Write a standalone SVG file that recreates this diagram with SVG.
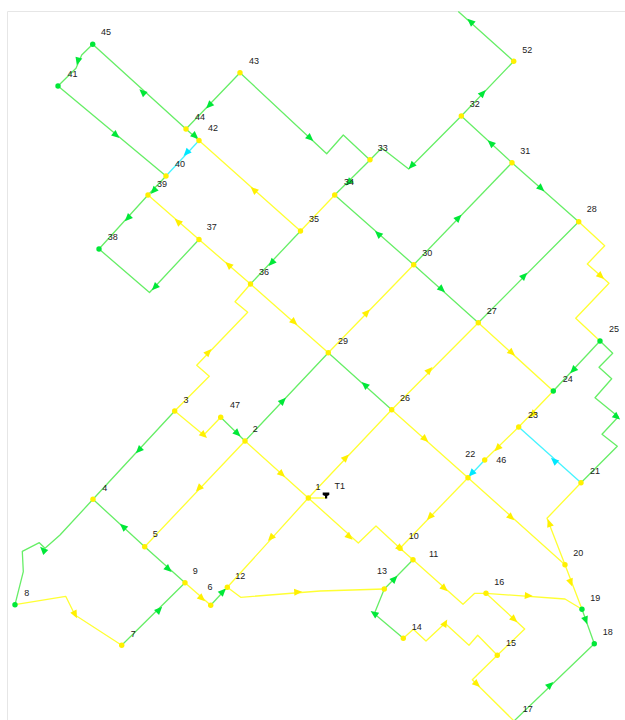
<svg xmlns="http://www.w3.org/2000/svg" width="625" height="720" viewBox="0 0 625 720">
<style>
text{font-family:"Liberation Sans",Arial,sans-serif;font-size:9px;fill:#222;text-anchor:middle}
.pg,.py,.pc{fill:none;stroke-width:1.300;stroke-linejoin:round}
.pg{stroke:#66ee66}.py{stroke:#ffff33}.pc{stroke:#44f4ff}
.ny{fill:#fff000}.ng{fill:#00e838}
.frame{fill:none;stroke:#e6e6e6;stroke-width:1}
</style>
<defs>
<polygon id="ag" points="4.500,0 -3.500,-3.500 -3.500,3.500" fill="#00e838"/>
<polygon id="ay" points="4.500,0 -3.500,-3.500 -3.500,3.500" fill="#fff000"/>
<polygon id="ac" points="4.500,0 -3.500,-3.500 -3.500,3.500" fill="#00e8ff"/>
</defs>
<rect width="625" height="720" fill="#fff"/>
<path class="frame" d="M625 11.500H7.500V720"/>
<g id="connectors">
<polyline class="pg" points="186,129 92.700,44.300 81.700,55 76,68.300 58,86 166,176"/>
<polyline class="pg" points="186,129 199,140.500"/>
<polyline class="pg" points="186,129 240,72.700 326.700,153.700 343.300,135 370,160 381.700,148 408.700,169 461.300,116 513.700,61.300 458.300,11.500"/>
<polyline class="pc" points="199,140.500 166,176"/>
<polyline class="pg" points="166,176 148,195 99,249 149.500,292.500 199,239.500"/>
<polyline class="py" points="199,140.500 300.500,231 334.700,195"/>
<polyline class="py" points="148,195 199,239.500 250.500,284 328.300,352.700 413.700,264.700"/>
<polyline class="pg" points="300.500,231 250.500,284"/>
<polyline class="py" points="250.500,284 235,301.700 247.700,312.300 196.700,365.300 209.300,376.300 174.700,411 203.700,435 220.700,417.300"/>
<polyline class="pg" points="220.700,417.300 245,441 328.300,352.700 391.700,409.700"/>
<polyline class="pg" points="334.700,195 370,160"/>
<polyline class="pg" points="334.700,195 413.700,264.700 478.300,322.700 578.700,221.700 512,162.700 461.300,116"/>
<polyline class="pg" points="413.700,264.700 512,162.700"/>
<polyline class="py" points="578.700,221.700 604.700,245.700 587.300,264 609,283.300 575.700,318.300 600,341"/>
<polyline class="pg" points="600,341 612.700,353.300 599,367.300 611.700,378.700 595,397.700 618.300,416.700 602,434.300 617.300,446.300 581,482.700"/>
<polyline class="pg" points="600,341 553.300,391"/>
<polyline class="py" points="478.300,322.700 553.300,391 518.700,427 484.700,460"/>
<polyline class="pc" points="484.700,460 468,477.700"/>
<polyline class="pc" points="518.700,427 581,482.700"/>
<polyline class="py" points="478.300,322.700 391.700,409.700 308.300,498 227.300,587.300"/>
<polyline class="py" points="391.700,409.700 468,477.700 565,564.700 582,609.300"/>
<polyline class="py" points="468,477.700 400,548.300"/>
<polyline class="py" points="565,564.700 547,518.300 581,482.700"/>
<polyline class="py" points="308.300,498 245,441 144.700,546.700"/>
<polyline class="py" points="308.300,498 326,498"/>
<polyline class="py" points="308.300,498 358.300,543 376,526 400,548.300 413,559.700 463,604.300 474.700,593.300 486,593.300 565,599 582,609.300"/>
<polyline class="py" points="486,593.300 524.700,629 497.300,655.300 472.300,679.700 514,721"/>
<polyline class="py" points="403.300,638.300 413.300,629.300 426,641 445,623.300 469,645.300 477.700,635.300 497.300,655.300"/>
<polyline class="pg" points="413,559.700 384.300,589 374.300,613.700 403.300,638.300"/>
<polyline class="py" points="227.300,587.300 240.700,597.300 320,591 384.300,589"/>
<polyline class="pg" points="174.700,411 93,499.300 144.700,546.700 185,582.700 121.700,645.300"/>
<polyline class="py" points="185,582.700 210.700,605.300"/>
<polyline class="pg" points="210.700,605.300 227.300,587.300"/>
<polyline class="pg" points="93,499.300 60,535 45,548.300 39.300,542.700 22.300,551.300 23.300,571.700 15,604.700"/>
<polyline class="py" points="15,604.700 65.700,596.300 75,615 121.700,645.300"/>
<polyline class="pg" points="514,721 594.300,643.700 582,609.300"/>
<use href="#ag" transform="translate(142.700 92.300) rotate(222)"/>
<use href="#ag" transform="translate(78 61) rotate(105)"/>
<use href="#ag" transform="translate(116 135) rotate(40)"/>
<use href="#ag" transform="translate(209.300 105.300) rotate(134)"/>
<use href="#ag" transform="translate(195 136) rotate(42)"/>
<use href="#ag" transform="translate(310 138) rotate(42)"/>
<use href="#ag" transform="translate(153.700 190.700) rotate(134)"/>
<use href="#ag" transform="translate(128 218) rotate(134)"/>
<use href="#ag" transform="translate(155 287) rotate(134)"/>
<use href="#ag" transform="translate(271.700 262.700) rotate(134)"/>
<use href="#ag" transform="translate(470.700 21.700) rotate(222)"/>
<use href="#ag" transform="translate(482.700 93.300) rotate(-46)"/>
<use href="#ag" transform="translate(491 143.300) rotate(222)"/>
<use href="#ag" transform="translate(541 188.300) rotate(42)"/>
<use href="#ag" transform="translate(411.700 165.700) rotate(134)"/>
<use href="#ag" transform="translate(349 182.300) rotate(134)"/>
<use href="#ag" transform="translate(378.300 234) rotate(222)"/>
<use href="#ag" transform="translate(458.300 218) rotate(-46)"/>
<use href="#ag" transform="translate(441.700 289.300) rotate(42)"/>
<use href="#ag" transform="translate(524 276) rotate(-46)"/>
<use href="#ag" transform="translate(573.300 370) rotate(134)"/>
<use href="#ag" transform="translate(616.700 416.700) rotate(40)"/>
<use href="#ag" transform="translate(365 385) rotate(222)"/>
<use href="#ag" transform="translate(282.700 401) rotate(-46)"/>
<use href="#ag" transform="translate(237.300 433.300) rotate(44)"/>
<use href="#ag" transform="translate(139 450) rotate(134)"/>
<use href="#ag" transform="translate(123.300 526.700) rotate(222)"/>
<use href="#ag" transform="translate(168.300 569) rotate(42)"/>
<use href="#ag" transform="translate(222.700 591.700) rotate(-46)"/>
<use href="#ag" transform="translate(159 610) rotate(-46)"/>
<use href="#ag" transform="translate(43.300 550) rotate(225)"/>
<use href="#ag" transform="translate(394.300 579) rotate(-46)"/>
<use href="#ag" transform="translate(374.300 613.700) rotate(215)"/>
<use href="#ag" transform="translate(550 685) rotate(-43)"/>
<use href="#ag" transform="translate(585.700 620) rotate(70)"/>
<use href="#ac" transform="translate(186.700 152.700) rotate(134)"/>
<use href="#ac" transform="translate(471.700 473.300) rotate(134)"/>
<use href="#ac" transform="translate(554.300 460.700) rotate(222)"/>
<use href="#ay" transform="translate(254 190) rotate(222)"/>
<use href="#ay" transform="translate(178 221.700) rotate(222)"/>
<use href="#ay" transform="translate(228.700 265) rotate(222)"/>
<use href="#ay" transform="translate(294 322) rotate(42)"/>
<use href="#ay" transform="translate(366.700 312.700) rotate(-46)"/>
<use href="#ay" transform="translate(600.700 276) rotate(42)"/>
<use href="#ay" transform="translate(429.300 370.300) rotate(-46)"/>
<use href="#ay" transform="translate(511.700 352.700) rotate(42)"/>
<use href="#ay" transform="translate(532.700 414.300) rotate(134)"/>
<use href="#ay" transform="translate(497.700 448) rotate(134)"/>
<use href="#ay" transform="translate(208.300 352.300) rotate(-46)"/>
<use href="#ay" transform="translate(203.700 435) rotate(42)"/>
<use href="#ay" transform="translate(425 439) rotate(42)"/>
<use href="#ay" transform="translate(345.700 457.700) rotate(-46)"/>
<use href="#ay" transform="translate(281.700 474) rotate(42)"/>
<use href="#ay" transform="translate(199 488.300) rotate(134)"/>
<use href="#ay" transform="translate(271 537.700) rotate(134)"/>
<use href="#ay" transform="translate(201.700 598.300) rotate(42)"/>
<use href="#ay" transform="translate(75 614.300) rotate(63)"/>
<use href="#ay" transform="translate(297.700 592) rotate(-4)"/>
<use href="#ay" transform="translate(349.300 536.700) rotate(42)"/>
<use href="#ay" transform="translate(400 548.300) rotate(42)"/>
<use href="#ay" transform="translate(430 516.700) rotate(134)"/>
<use href="#ay" transform="translate(511 517.300) rotate(42)"/>
<use href="#ay" transform="translate(549.300 523.300) rotate(-110)"/>
<use href="#ay" transform="translate(570.700 582.300) rotate(70)"/>
<use href="#ay" transform="translate(528.300 595.700) rotate(4)"/>
<use href="#ay" transform="translate(514 619.300) rotate(42)"/>
<use href="#ay" transform="translate(444.300 588.300) rotate(42)"/>
<use href="#ay" transform="translate(445 623.300) rotate(-60)"/>
<use href="#ay" transform="translate(476.700 684) rotate(42)"/>
</g>
<g id="n1"><circle class="ny" cx="308.300" cy="498" r="2.700"/><text x="318" y="490">1</text></g>
<g id="n2"><circle class="ny" cx="245" cy="441" r="2.700"/><text x="255.300" y="432">2</text></g>
<g id="n3"><circle class="ny" cx="174.700" cy="411" r="2.700"/><text x="186" y="402.500">3</text></g>
<g id="n4"><circle class="ny" cx="93" cy="499.300" r="2.700"/><text x="104.700" y="490.500">4</text></g>
<g id="n5"><circle class="ny" cx="144.700" cy="546.700" r="2.700"/><text x="155.300" y="537">5</text></g>
<g id="n6"><circle class="ny" cx="210.700" cy="605.300" r="2.700"/><text x="210" y="590">6</text></g>
<g id="n7"><circle class="ny" cx="121.700" cy="645.300" r="2.700"/><text x="133.300" y="636.500">7</text></g>
<g id="n8"><circle class="ng" cx="15" cy="604.700" r="2.700"/><text x="26.700" y="595.500">8</text></g>
<g id="n9"><circle class="ny" cx="185" cy="582.700" r="2.700"/><text x="195.300" y="574">9</text></g>
<g id="n10"><circle class="ny" cx="400" cy="548.300" r="2.700"/><text x="413.700" y="538.500">10</text></g>
<g id="n11"><circle class="ny" cx="413" cy="559.700" r="2.700"/><text x="433.700" y="557">11</text></g>
<g id="n12"><circle class="ny" cx="227.300" cy="587.300" r="2.700"/><text x="240.300" y="578.500">12</text></g>
<g id="n13"><circle class="ny" cx="384.300" cy="589" r="2.700"/><text x="382" y="573.500">13</text></g>
<g id="n14"><circle class="ny" cx="403.300" cy="638.300" r="2.700"/><text x="416.700" y="629.500">14</text></g>
<g id="n15"><circle class="ny" cx="497.300" cy="655.300" r="2.700"/><text x="511" y="646">15</text></g>
<g id="n16"><circle class="ny" cx="486" cy="593.300" r="2.700"/><text x="499.300" y="584.500">16</text></g>
<g id="n17"><circle class="ny" cx="514" cy="723" r="2.700"/><text x="527.700" y="712">17</text></g>
<g id="n18"><circle class="ng" cx="594.300" cy="643.700" r="2.700"/><text x="607.700" y="634.500">18</text></g>
<g id="n19"><circle class="ng" cx="582" cy="609.300" r="2.700"/><text x="595.300" y="601">19</text></g>
<g id="n20"><circle class="ny" cx="565" cy="564.700" r="2.700"/><text x="578.300" y="556">20</text></g>
<g id="n21"><circle class="ny" cx="581" cy="482.700" r="2.700"/><text x="595" y="474">21</text></g>
<g id="n22"><circle class="ny" cx="468" cy="477.700" r="2.700"/><text x="470.300" y="456.500">22</text></g>
<g id="n23"><circle class="ny" cx="518.700" cy="427" r="2.700"/><text x="533" y="418">23</text></g>
<g id="n24"><circle class="ng" cx="553.300" cy="391" r="2.700"/><text x="567.700" y="382">24</text></g>
<g id="n25"><circle class="ng" cx="600" cy="341" r="2.700"/><text x="614" y="332">25</text></g>
<g id="n26"><circle class="ny" cx="391.700" cy="409.700" r="2.700"/><text x="405" y="400.500">26</text></g>
<g id="n27"><circle class="ny" cx="478.300" cy="322.700" r="2.700"/><text x="491.700" y="313.500">27</text></g>
<g id="n28"><circle class="ny" cx="578.700" cy="221.700" r="2.700"/><text x="591.700" y="212">28</text></g>
<g id="n29"><circle class="ny" cx="328.300" cy="352.700" r="2.700"/><text x="343" y="344">29</text></g>
<g id="n30"><circle class="ny" cx="413.700" cy="264.700" r="2.700"/><text x="427.300" y="256">30</text></g>
<g id="n31"><circle class="ny" cx="512" cy="162.700" r="2.700"/><text x="525.300" y="153.700">31</text></g>
<g id="n32"><circle class="ny" cx="461.300" cy="116" r="2.700"/><text x="474.700" y="106.700">32</text></g>
<g id="n33"><circle class="ny" cx="370" cy="159.700" r="2.700"/><text x="382.700" y="150.700">33</text></g>
<g id="n34"><circle class="ny" cx="334.700" cy="195" r="2.700"/><text x="349" y="185.300">34</text></g>
<g id="n35"><circle class="ny" cx="300.500" cy="231" r="2.700"/><text x="314" y="222.300">35</text></g>
<g id="n36"><circle class="ny" cx="250.500" cy="284" r="2.700"/><text x="264" y="274.700">36</text></g>
<g id="n37"><circle class="ny" cx="199" cy="239.500" r="2.700"/><text x="211.700" y="230.300">37</text></g>
<g id="n38"><circle class="ng" cx="99" cy="249" r="2.700"/><text x="112.700" y="239.700">38</text></g>
<g id="n39"><circle class="ny" cx="148" cy="195" r="2.700"/><text x="162" y="186.700">39</text></g>
<g id="n40"><circle class="ny" cx="166" cy="176" r="2.700"/><text x="180" y="167">40</text></g>
<g id="n41"><circle class="ng" cx="58" cy="86" r="2.700"/><text x="72.500" y="77">41</text></g>
<g id="n42"><circle class="ny" cx="199" cy="140.500" r="2.700"/><text x="213" y="131">42</text></g>
<g id="n43"><circle class="ny" cx="240" cy="72.700" r="2.700"/><text x="254" y="63.700">43</text></g>
<g id="n44"><circle class="ny" cx="186" cy="129" r="2.700"/><text x="200" y="120">44</text></g>
<g id="n45"><circle class="ng" cx="92.700" cy="44.300" r="2.700"/><text x="106" y="35">45</text></g>
<g id="n46"><circle class="ny" cx="484.700" cy="460" r="2.700"/><text x="501.300" y="462.700">46</text></g>
<g id="n47"><circle class="ny" cx="220.700" cy="417.300" r="2.700"/><text x="235" y="408.300">47</text></g>
<g id="n52"><circle class="ny" cx="513.700" cy="61.300" r="2.700"/><text x="527.300" y="52.700">52</text></g>
<g id="T1"><path d="M322.700 492.500H329.300V495L327.200 496V498.500H325V496L322.700 495Z" fill="#000"/><text x="339.700" y="489">T1</text></g>
</svg>
